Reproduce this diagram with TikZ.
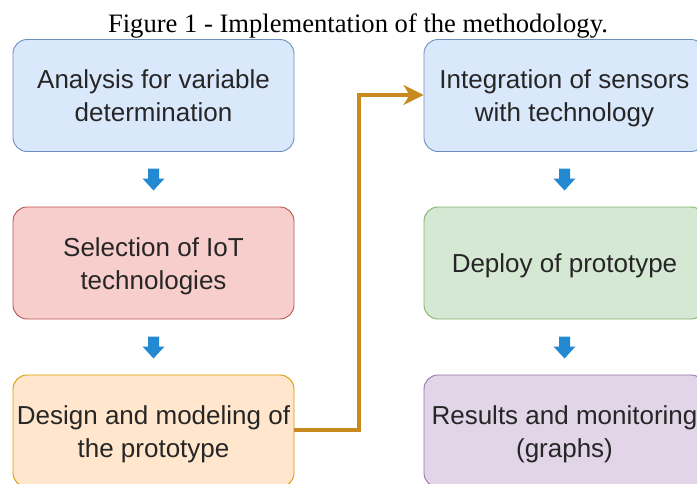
\documentclass[tikz,border=0pt]{standalone}
\usepackage{fontspec}
\setmainfont{Liberation Serif}
\newfontfamily\boxfont{Liberation Sans}
\usetikzlibrary{arrows.meta}
\definecolor{bluefill}{HTML}{DAE8FC}\definecolor{bluedraw}{HTML}{6C8EBF}
\definecolor{redfill}{HTML}{F8CECC}\definecolor{reddraw}{HTML}{B85450}
\definecolor{orangefill}{HTML}{FFE6CC}\definecolor{orangedraw}{HTML}{D79B00}
\definecolor{greenfill}{HTML}{D5E8D4}\definecolor{greendraw}{HTML}{82B366}
\definecolor{purplefill}{HTML}{E1D5E7}\definecolor{purpledraw}{HTML}{9673A6}
\definecolor{linkcol}{HTML}{C8891E}
\definecolor{arrowblue}{HTML}{2389D0}
\definecolor{txt}{HTML}{262626}
\tikzset{
  stepbox/.style={rounded corners=14pt, line width=0.9pt, minimum width=281pt, minimum height=112pt,
    align=center, inner sep=0pt, text=txt, font=\boxfont\fontsize{26pt}{33pt}\selectfont},
  blockarrow/.style={fill=arrowblue, draw=none},
  link/.style={draw=linkcol, line width=3.2pt, -{Stealth[length=20pt,width=20pt,inset=6pt]}}
}
\newcommand\boxtext[1]{\raisebox{-3pt}[\height][\depth]{\begin{tabular}{@{}c@{}}#1\end{tabular}}}
\newcommand\myblockarrow[1]{%
  \fill[blockarrow] ([shift={(-5.5,-11)}]#1) -- ([shift={(5.5,-11)}]#1) -- ([shift={(5.5,-1)}]#1)
    -- ([shift={(11,-1)}]#1) -- ([shift={(0,11)}]#1) -- ([shift={(-11,-1)}]#1)
    -- ([shift={(-5.5,-1)}]#1) -- cycle;}
\begin{document}
\begin{tikzpicture}[x=1pt,y=-1pt]
\useasboundingbox (0,0) rectangle (697,483);
\node[anchor=base, font=\fontsize{26.6pt}{30pt}\selectfont] (title) at (358,32) {Figure 1 - Implementation of the methodology.};
\node[stepbox, fill=bluefill, draw=bluedraw] (a) at (153.5,95.5) {\boxtext{Analysis for variable\\determination}};
\node[stepbox, fill=redfill, draw=reddraw] (b) at (153.5,263) {\boxtext{Selection of IoT\\technologies}};
\node[stepbox, fill=orangefill, draw=orangedraw] (c) at (153.5,431) {\boxtext{Design and modeling of\\the prototype}};
\node[stepbox, fill=bluefill, draw=bluedraw] (d) at (564.5,95.5) {\boxtext{Integration of sensors\\with technology}};
\node[stepbox, fill=greenfill, draw=greendraw] (e) at (564.5,263) {\boxtext{Deploy of prototype}};
\node[stepbox, fill=purplefill, draw=purpledraw] (f) at (564.5,431) {\boxtext{Results and monitoring\\(graphs)}};
\coordinate (ab) at (153.5,179.5);
\coordinate (bc) at (153.5,347.5);
\coordinate (de) at (564.5,179.5);
\coordinate (ef) at (564.5,347.5);
\myblockarrow{ab}
\myblockarrow{bc}
\myblockarrow{de}
\myblockarrow{ef}
\coordinate (turn1) at (359,430);
\coordinate (turn2) at (359,95);
\draw[link] (c.east |- turn1) -- (turn1) -- (turn2) -- (d.west |- turn2);
\end{tikzpicture}
\end{document}
